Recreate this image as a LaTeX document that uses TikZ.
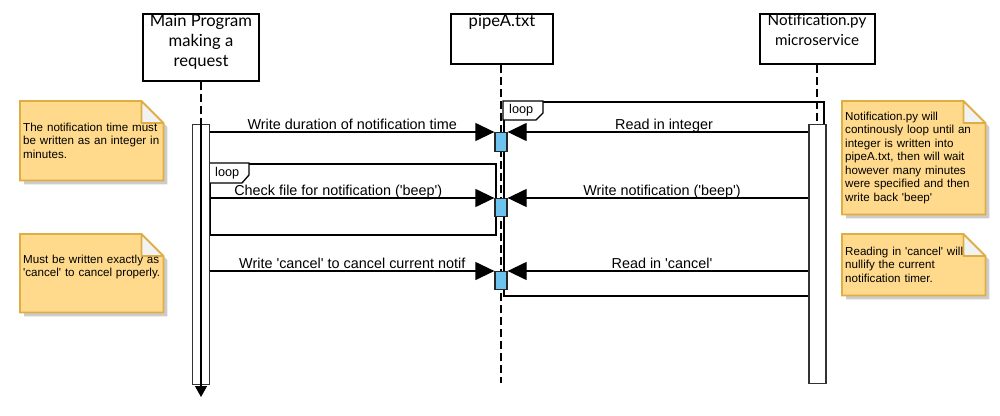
\documentclass[tikz,border=0pt]{standalone}
\usepackage{fontspec}
\setmainfont{Liberation Sans}[Ligatures=TeXOff]
\newfontfamily\latofont{Lato}[Ligatures=NoCommon]
\usetikzlibrary{arrows.meta, positioning}
\definecolor{notefill}{RGB}{255,218,140}
\definecolor{notedraw}{RGB}{222,174,68}
\definecolor{foldfill}{RGB}{242,242,242}
\definecolor{shadowgray}{RGB}{204,204,204}
\definecolor{actfill}{RGB}{108,196,238}

\begin{document}
\begin{tikzpicture}[x=1pt, y=-1pt,
        head/.style={rectangle, draw=black, line width=2pt, anchor=north},
        headtext/.style={font=\latofont\fontsize{16.6}{20}\selectfont, align=center,
                         inner sep=1pt, anchor=north},
        actbar/.style={rectangle, draw=black!80, line width=1.3pt, fill=white,
                       minimum width=17pt, anchor=north, inner sep=0pt},
        pipebox/.style={rectangle, draw=black!85, line width=1.3pt, fill=actfill,
                        minimum width=12pt, minimum height=18pt, anchor=north, inner sep=0pt},
        lifeline/.style={line width=1.3pt, dash pattern=on 8pt off 4pt},
        msg/.style={-{Triangle[length=19pt, width=18pt]}, line width=1.3pt},
        msglabel/.style={midway, above, inner sep=2pt, text depth=0pt,
                         font=\fontsize{14.4}{16}\selectfont},
        frame/.style={rectangle, draw=black, line width=2.2pt, anchor=north west, inner sep=0pt},
        looptab/.style={draw=black, line width=1.3pt, fill=white},
        looptext/.style={font=\fontsize{12.7}{14}\selectfont, inner sep=0pt, anchor=west},
        notebox/.style={rectangle, anchor=north west, minimum width=143pt, inner sep=0pt},
        notetext/.style={anchor=west, inner xsep=3pt, inner ysep=0pt, text width=150pt,
                         align=left, font=\fontsize{11.6}{13.5}\selectfont},
    ]
    \useasboundingbox (0,0) rectangle (1000,415);

    % ====== Lifeline heads ======
    \node[head, minimum width=116pt, minimum height=67pt] (main) at (201,13) {};
    \node[headtext] (maintext) at (main.north) {Main Program\\making a\\request};
    \node[head, minimum width=102pt, minimum height=50pt] (pipe) at (502,13) {};
    \node[headtext] (pipetext) at (pipe.north) {pipeA.txt};
    \node[head, minimum width=115pt, minimum height=50pt] (notif) at (817,13) {};
    \node[headtext, font=\latofont\fontsize{15.2}{20}\selectfont] (notiftext) at (notif.north)
        {Notification.py\\microservice};

    % ====== Notes ======
    \node[notebox, minimum height=79pt] (notea) at (20,101) {};
    \node[notebox, minimum height=78pt] (noteb) at (20,234) {};
    \node[notebox, minimum height=113pt] (notec) at (842,101) {};
    \node[notebox, minimum height=61pt] (noted) at (842,234) {};
    \foreach \n in {notea, noteb, notec, noted} {
        \fill[shadowgray] ([shift={(4,4)}]\n.north west) -- ([shift={(-18,4)}]\n.north east)
            -- ([shift={(4,26)}]\n.north east) -- ([shift={(4,4)}]\n.south east)
            -- ([shift={(4,4)}]\n.south west) -- cycle;
        \draw[notedraw, fill=notefill, line width=1.8pt] (\n.north west) -- ([xshift=-22pt]\n.north east)
            -- ([shift={(0,22)}]\n.north east) -- (\n.south east) -- (\n.south west) -- cycle;
        \draw[notedraw, fill=foldfill, line width=1.8pt, line join=round] ([xshift=-22pt]\n.north east)
            -- ([shift={(-22,22)}]\n.north east) -- ([shift={(0,22)}]\n.north east) -- cycle;
    }
    \node[notetext] (noteatext) at (notea.west) {The notification time must\\be written as an integer in\\minutes.};
    \node[notetext] (notebtext) at ([yshift=6pt]noteb.west) {Must be written exactly as\\'cancel' to cancel properly.};
    \node[notetext] (notectext) at (notec.west) {Notification.py will\\continously loop until an\\integer is written into\\pipeA.txt, then will wait\\however many minutes\\were specified and then\\write back 'beep'};
    \node[notetext] (notedtext) at (noted.west) {Reading in 'cancel' will\\nullify the current\\notification timer.};

    % ====== Lifelines ======
    \draw[lifeline] (main.south) -- (201,124);
    \draw[lifeline] (pipe.south -| 501,0) -- (501,383);
    \draw[lifeline] (notif.south) -- (817,124);

    % ====== Loop frames ======
    \node[frame, minimum width=320pt, minimum height=194pt] (loopa) at (503,101) {};
    \draw[looptab] (loopa.north west) -- ++(40,0) -- ++(0,12) -- ++(-7,7) -- ++(-33,0) -- cycle;
    \node[looptext] (loopatext) at ([shift={(6,9.5)}]loopa.north west) {loop};
    \node[frame, minimum width=286pt, minimum height=71pt] (loopb) at (209,163) {};
    \draw[looptab] (loopb.north west) -- ++(40,0) -- ++(0,12) -- ++(-7,8) -- ++(-33,0) -- cycle;
    \node[looptext] (loopbtext) at ([shift={(6,10)}]loopb.north west) {loop};

    % ====== Activations ======
    \node[actbar, minimum height=260pt] (mainact) at (201,124) {};
    \coordinate (mainend) at (201,397);
    \draw[line width=1.3pt] (mainact.north) -- (mainact.south);
    \draw[line width=1.3pt, -{Triangle[length=11pt, width=12pt]}] (mainact.south) -- (mainend);
    \node[actbar, minimum height=259pt] (notifact) at (817.5,124) {};
    \node[pipebox, minimum height=19pt] (pipeacta) at (501,132) {};
    \node[pipebox] (pipeactb) at (501,198) {};
    \node[pipebox] (pipeactc) at (501,271) {};

    % ====== Messages ======
    \draw[msg] (mainact.east |- pipeacta.north) -- (pipeacta.north west)
        node[msglabel] {Write duration of notification time};
    \draw[msg] (notifact.west |- pipeacta.north) -- (pipeacta.north east)
        node[msglabel, xshift=6pt] {Read in integer};
    \draw[msg] (mainact.east |- pipeactb.north) -- (pipeactb.north west)
        node[msglabel, xshift=-14pt] {Check file for notification ('beep')};
    \draw[msg] (notifact.west |- pipeactb.north) -- (pipeactb.north east)
        node[msglabel, xshift=4pt] {Write notification ('beep')};
    \draw[msg] (mainact.east |- pipeactc.north) -- (pipeactc.north west)
        node[msglabel] {Write 'cancel' to cancel current notif};
    \draw[msg] (notifact.west |- pipeactc.north) -- (pipeactc.north east)
        node[msglabel, xshift=4pt] {Read in 'cancel'};

\end{tikzpicture}
\end{document}
